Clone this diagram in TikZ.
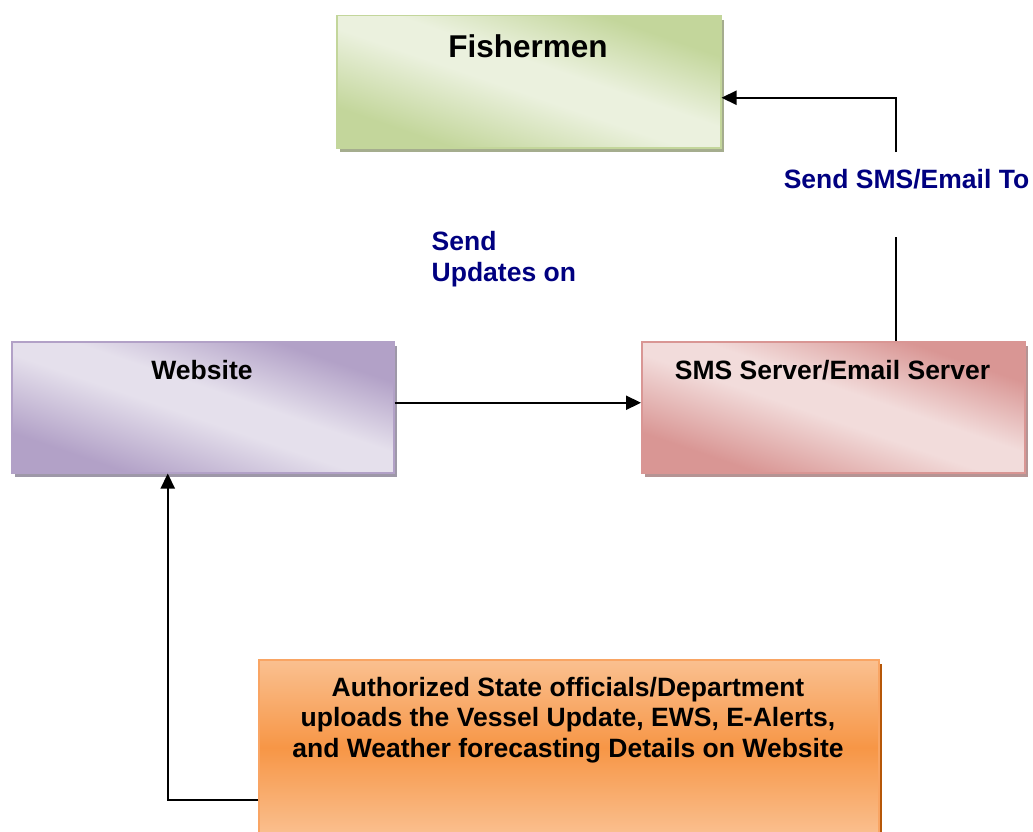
\documentclass[tikz,border=0pt]{standalone}
\usepackage{fontspec}
\setmainfont{Liberation Sans}
\usetikzlibrary{arrows.meta,shadows}
\definecolor{navy}{RGB}{0,0,128}
\definecolor{grDark}{RGB}{195,214,155}
\definecolor{grLight}{RGB}{235,241,222}
\definecolor{grShadow}{RGB}{165,173,142}
\definecolor{puDark}{RGB}{178,161,199}
\definecolor{puLight}{RGB}{229,224,236}
\definecolor{puShadow}{RGB}{158,152,168}
\definecolor{rdDark}{RGB}{217,150,148}
\definecolor{rdLight}{RGB}{242,220,219}
\definecolor{rdShadow}{RGB}{181,148,148}
\definecolor{orDark}{RGB}{247,150,70}
\definecolor{orLight}{RGB}{250,192,144}
\definecolor{orEdge}{RGB}{249,165,100}
\definecolor{orShadow}{RGB}{182,87,8}
\pgfdeclarehorizontalshading{greenband}{100bp}{color(0bp)=(grDark); color(28bp)=(grDark); color(47bp)=(grLight); color(55bp)=(grLight); color(72bp)=(grDark); color(100bp)=(grDark)}
\pgfdeclarehorizontalshading{purpleband}{100bp}{color(0bp)=(puDark); color(28bp)=(puDark); color(47bp)=(puLight); color(55bp)=(puLight); color(72bp)=(puDark); color(100bp)=(puDark)}
\pgfdeclarehorizontalshading{redband}{100bp}{color(0bp)=(rdDark); color(28bp)=(rdDark); color(47bp)=(rdLight); color(55bp)=(rdLight); color(72bp)=(rdDark); color(100bp)=(rdDark)}
\begin{document}
\begin{tikzpicture}[x=1pt,y=-1pt,>={Triangle[length=15pt,width=14pt]},
    box/.style={line width=1.5pt,anchor=north west,inner sep=0pt,shading angle=71,
      drop shadow={shadow xshift=3pt,shadow yshift=-4pt,opacity=1,fill=#1}},
    head/.style={font=\fontsize{26.5}{30.5}\selectfont\bfseries,anchor=base,inner sep=0pt},
    note/.style={head,text=navy},
    link/.style={line width=2.2pt,->}]
  \useasboundingbox (0,0) rectangle (1033,832);
  \clip (0,0) rectangle (1033,832);
  % boxes
  \node[box=grShadow,draw=grDark,shading=greenband,
    minimum width=384pt,minimum height=132pt] (fish) at (336,15) {};
  \node[box=puShadow,draw=puDark,shading=purpleband,
    minimum width=382pt,minimum height=131pt] (web) at (11,341) {};
  \node[box=rdShadow,draw=rdDark,shading=redband,
    minimum width=383pt,minimum height=131pt] (sms) at (641,341) {};
  \node[box=orShadow,draw=orEdge,
    top color=orLight,bottom color=orLight,middle color=orDark,
    minimum width=620pt,minimum height=176pt] (auth) at (258,659) {};
  % texts
  \node[head,font=\fontsize{31.5}{36}\selectfont\bfseries] (fishtxt) at (528,58) {Fishermen};
  \node[head] (webtxt) at (202,379) {Website};
  \node[head] (smstxt) at (832.5,379) {SMS Server/Email Server};
  \node[head,align=center] (authtxt) at (568,757)
    {Authorized State officials/Department\\uploads the Vessel Update, EWS, E-Alerts,\\and Weather forecasting Details on Website};
  \node[note] (smsnote) at (906.5,188) {Send SMS/Email To};
  \node[note,anchor=base west,align=left] (updnote) at (431.5,281) {Send\\Updates on};
  % connectors
  \coordinate (gaplow) at (896,237);
  \coordinate (gaphigh) at (896,152);
  \draw[link] ([yshift=4.5pt]web.east) -- ([yshift=4.5pt]sms.west);
  \draw[line width=2.2pt] (sms.north -| gaplow) -- (gaplow);
  \draw[link] (gaphigh) |- ([yshift=-16pt]fish.east);
  \draw[link] ([yshift=-52pt]auth.west) -| ([xshift=-35pt]web.south);
\end{tikzpicture}
\end{document}
